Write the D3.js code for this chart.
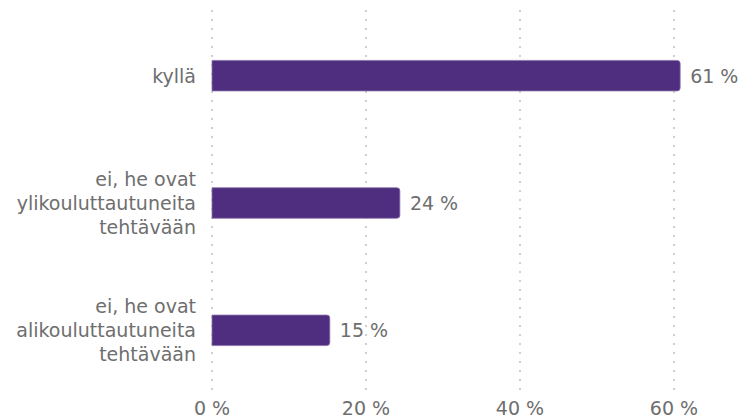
<!DOCTYPE html>
<html>
<head>
<meta charset="utf-8">
<script src="https://cdn.jsdelivr.net/npm/d3@7"></script>
<style>
  body { margin: 0; background: #fff; }
  text { font-family: "DejaVu Sans", "Open Sans", sans-serif; fill: #6e6e6e; }
</style>
</head>
<body>
<div id="chart-div"></div>
<script>
var categories = [
  ["kyllä"],
  ["ei, he ovat", "ylikouluttautuneita", "tehtävään"],
  ["ei, he ovat", "alikouluttautuneita", "tehtävään"]
];
var values = [60.8, 24.4, 15.3];
var valueLabels = ["61 %", "24 %", "15 %"];
var tickValues = [0, 20, 40, 60];

var props = {
  width: 746,
  height: 418,
  left: 212,
  top: 12,
  bottom: 394
};

var svg = d3.select("#chart-div").append("svg").attr("width", props.width).attr("height", props.height);

var xScale = d3.scaleLinear().domain([0, 60]).range([props.left, props.left + 462]);
var yScale = d3.scaleBand().domain(d3.range(categories.length)).range([props.top, props.bottom]).paddingInner(0.76).paddingOuter(0.38);

// dotted grid
svg.selectAll(".grid")
  .data(tickValues)
  .enter()
  .append("line")
  .attr("class", "grid")
  .attr("x1", function(d){return xScale(d)})
  .attr("x2", function(d){return xScale(d)})
  .attr("y1", 10)
  .attr("y2", 396)
  .style("stroke", "#cfcfcf")
  .style("stroke-width", 2)
  .style("stroke-dasharray", "2,7");

// tick labels
svg.selectAll(".tick-label")
  .data(tickValues)
  .enter()
  .append("text")
  .attr("class", "tick-label")
  .attr("x", function(d){return xScale(d)})
  .attr("y", 415)
  .attr("text-anchor", "middle")
  .style("font-size", "19px")
  .text(function(d){return d + " %"});

// bars, rounded on the right end only
function barPath(i){
  var x0 = xScale(0), x1 = xScale(values[i]);
  var y0 = yScale(i), h = yScale.bandwidth(), r = 3;
  return "M" + x0 + "," + y0 + "H" + (x1 - r) + "Q" + x1 + "," + y0 + " " + x1 + "," + (y0 + r) +
    "V" + (y0 + h - r) + "Q" + x1 + "," + (y0 + h) + " " + (x1 - r) + "," + (y0 + h) + "H" + x0 + "Z";
}

svg.selectAll(".bar")
  .data(values)
  .enter()
  .append("path")
  .attr("class", "bar")
  .attr("d", function(d, i){return barPath(i)})
  .style("fill", "#4f2d7f")
  .style("stroke", "#8a74aa")
  .style("stroke-width", 0.8);

// value labels
svg.selectAll(".value")
  .data(values)
  .enter()
  .append("text")
  .attr("class", "value")
  .attr("x", function(d){return xScale(d) + 10})
  .attr("y", function(d, i){return yScale(i) + yScale.bandwidth() / 2})
  .attr("dy", "0.36em")
  .style("font-size", "19px")
  .text(function(d, i){return valueLabels[i]});

// category labels
var cat = svg.selectAll(".cat")
  .data(categories)
  .enter()
  .append("text")
  .attr("class", "cat")
  .attr("text-anchor", "end")
  .style("font-size", "19px")
  .attr("transform", function(d, i){return "translate(196," + (yScale(i) + yScale.bandwidth() / 2) + ")"});

cat.selectAll("tspan")
  .data(function(d){return d})
  .enter()
  .append("tspan")
  .attr("x", 0)
  .attr("y", function(d, j, nodes){return (j - (nodes.length - 1) / 2) * 24})
  .attr("dy", "0.36em")
  .text(function(d){return d});
</script>
</body>
</html>
